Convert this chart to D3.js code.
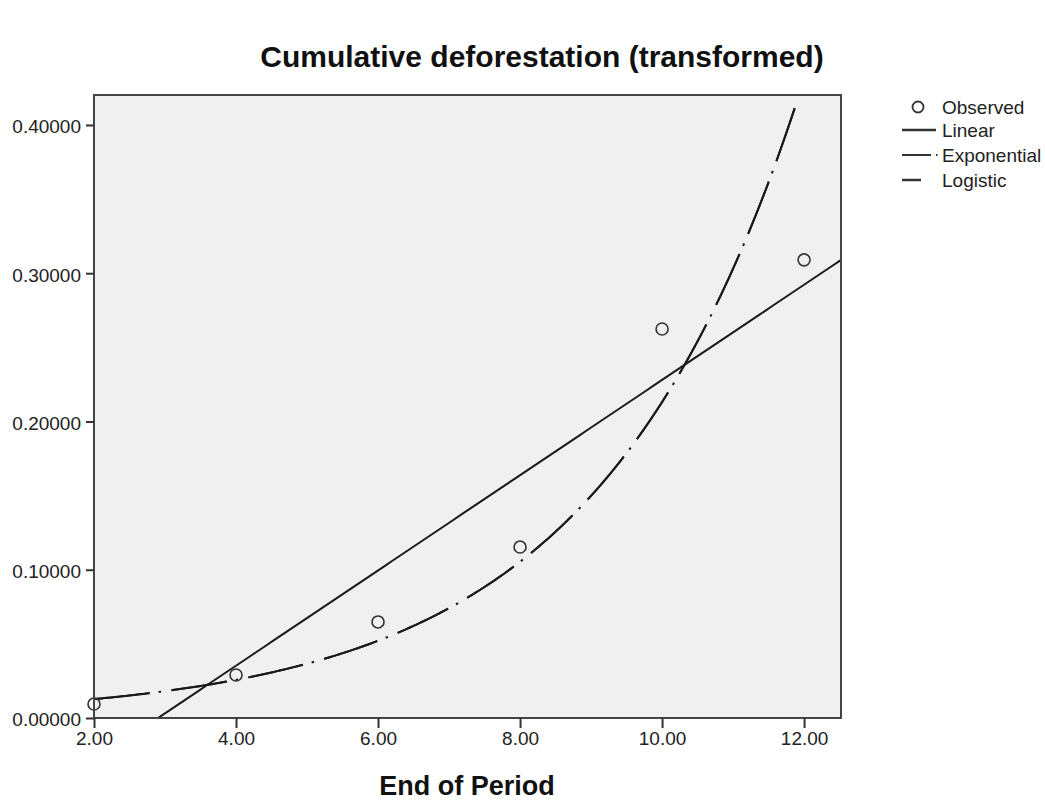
<!DOCTYPE html>
<html><head><meta charset="utf-8">
<script src="https://cdn.jsdelivr.net/npm/d3@7"></script>
<style>body{margin:0;background:#fff;} text{font-family:"Liberation Sans",Arial,sans-serif;}</style>
</head><body>
<svg id="c" width="1045" height="800"></svg>
<script>
// Data
const periods = [2, 4, 6, 8, 10, 12];
const observed = [0.0094, 0.029, 0.0648, 0.1153, 0.2624, 0.309];
const xTicks = [2, 4, 6, 8, 10, 12];
const yTicks = [0, 0.1, 0.2, 0.3, 0.4];
// Model coefficients
const linearCoef = {b0: -0.0932, b1: 0.03212};
const expCoef = {a: 0.0063, b: 0.3521};
const logisticCoef = {b0: 158.7, b1: 0.7032};
const curveRange = [2, 11.87];
const legendItems = ["Observed", "Linear", "Exponential", "Logistic"];

const svg = d3.select("#c");
const L = 94, R = 841, T = 95, B = 718;
const x = d3.scaleLinear().domain([2, 12.52]).range([L, R]);
const y = d3.scaleLinear().domain([0, 0.4202]).range([B, T]);
const FONT = "Liberation Sans, Arial, sans-serif";

svg.append("text").attr("x", 542).attr("y", 67).attr("text-anchor", "middle")
  .style("font-size", "30px").style("font-weight", "bold").attr("fill", "#111")
  .text("Cumulative deforestation (transformed)");

svg.append("rect").attr("x", L).attr("y", T).attr("width", R - L).attr("height", B - T)
  .attr("fill", "#f0f0f0");

svg.append("clipPath").attr("id", "pc").append("rect")
  .attr("x", L).attr("y", T).attr("width", R - L).attr("height", B - T);
const g = svg.append("g").attr("clip-path", "url(#pc)");

const lineGen = d3.line().x(d => x(d[0])).y(d => y(d[1]));
// Linear
const linX = d3.range(0, 101).map(i => 2 + i * 10.52 / 100);
g.append("path").datum(linX.map(v => [v, linearCoef.b0 + linearCoef.b1 * v]))
  .attr("d", lineGen).attr("fill", "none").attr("stroke", "#1a1a1a").attr("stroke-width", 2);

const cx = d3.range(0, 201).map(i => curveRange[0] + i * (curveRange[1] - curveRange[0]) / 200);
// Exponential
g.append("path").datum(cx.map(v => [v, expCoef.a * Math.exp(expCoef.b * v)]))
  .attr("d", lineGen).attr("fill", "none").attr("stroke", "#1a1a1a").attr("stroke-width", 2)
  .attr("stroke-dasharray", "56,9,2.5,10.5");
// Logistic
g.append("path").datum(cx.map(v => [v, 1 / (logisticCoef.b0 * Math.pow(logisticCoef.b1, v))]))
  .attr("d", lineGen).attr("fill", "none").attr("stroke", "#1a1a1a").attr("stroke-width", 2)
  .attr("stroke-dasharray", "56,22");

// Observed points
svg.append("g").selectAll("circle").data(periods.map((p, i) => [p, observed[i]])).join("circle")
  .attr("cx", d => x(d[0])).attr("cy", d => y(d[1])).attr("r", 6)
  .attr("fill", "none").attr("stroke", "#333").attr("stroke-width", 1.6);

// Frame
svg.append("rect").attr("x", L).attr("y", T).attr("width", R - L).attr("height", B - T)
  .attr("fill", "none").attr("stroke", "#444").attr("stroke-width", 2);

// Axes
const xAxis = d3.axisBottom(x).tickValues(xTicks).tickFormat(d3.format(".2f")).tickSizeOuter(0).tickSizeInner(10).tickPadding(4);
const gx = svg.append("g").attr("transform", `translate(0,${B})`).call(xAxis);
gx.select(".domain").remove();
gx.selectAll("line").attr("stroke", "#333").attr("stroke-width", 2);
gx.selectAll("text").style("font-size", "19px").attr("fill", "#222").style("font-family", FONT);

const yAxis = d3.axisLeft(y).tickValues(yTicks).tickFormat(d3.format(".5f")).tickSizeOuter(0).tickSizeInner(8).tickPadding(5);
const gy = svg.append("g").attr("transform", `translate(${L},0)`).call(yAxis);
gy.select(".domain").remove();
gy.selectAll("line").attr("stroke", "#333").attr("stroke-width", 2);
gy.selectAll("text").style("font-size", "19px").attr("fill", "#222").style("font-family", FONT).attr("dy", "0.42em");

svg.append("text").attr("x", 467).attr("y", 795).attr("text-anchor", "middle")
  .style("font-size", "27px").style("font-weight", "bold").attr("fill", "#111").text("End of Period");

// Legend
const lg = svg.append("g").style("font-size", "19px");
const ly = [107, 130, 155, 180];
lg.append("circle").attr("cx", 918).attr("cy", ly[0]).attr("r", 5.5).attr("fill", "none").attr("stroke", "#333").attr("stroke-width", 1.8);
lg.append("line").attr("x1", 902).attr("x2", 936).attr("y1", ly[1]).attr("y2", ly[1]).attr("stroke", "#333").attr("stroke-width", 2.5);
lg.append("line").attr("x1", 902).attr("x2", 938).attr("y1", ly[2]).attr("y2", ly[2]).attr("stroke", "#333").attr("stroke-width", 2).attr("stroke-dasharray", "29,5,1.5,10");
lg.append("line").attr("x1", 902).attr("x2", 921).attr("y1", ly[3]).attr("y2", ly[3]).attr("stroke", "#333").attr("stroke-width", 2.5);
lg.selectAll("text.lt").data(legendItems).join("text").attr("class", "lt")
  .attr("x", 942).attr("y", (d, i) => ly[i] + 7).attr("fill", "#222").text(d => d);
</script>
</body></html>
